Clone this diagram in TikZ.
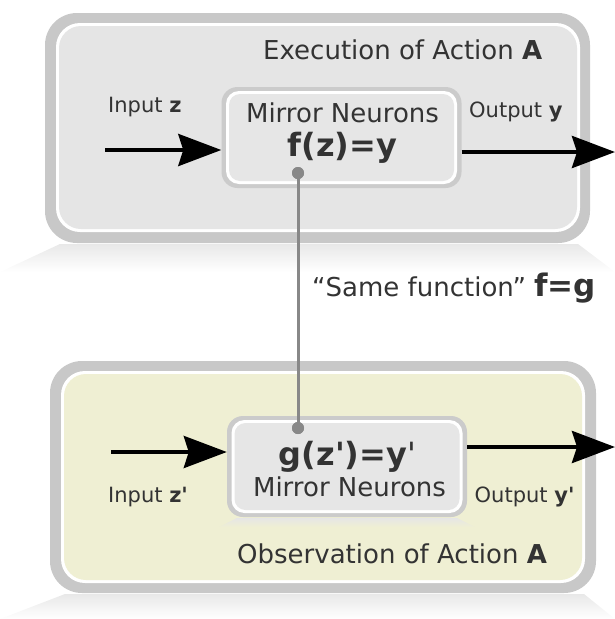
\documentclass[tikz,border=0pt]{standalone}
\usepackage{fontspec}
\newfontfamily\dv{DejaVu Sans}
\usetikzlibrary{arrows.meta}
\definecolor{band}{HTML}{C8C8C8}
\definecolor{topfill}{HTML}{E5E5E5}
\definecolor{botfill}{HTML}{EFEFD3}
\definecolor{txt}{HTML}{333333}
\definecolor{conncol}{HTML}{888888}
\definecolor{ibband}{HTML}{CBCBCB}
\definecolor{ibfill}{HTML}{E6E6E6}
\newcommand{\fsz}[1]{\fontsize{#1}{#1}\selectfont}
\begin{document}
\begin{tikzpicture}[x=1pt,y=-1pt,
  every node/.style={font=\dv, text=txt, inner sep=0pt},
  ibouter/.style={fill=ibband, rounded corners=16pt, minimum width=240pt, minimum height=101pt},
  ibwhite/.style={fill=white, rounded corners=13pt, minimum width=231pt, minimum height=93pt},
  ibinner/.style={fill=ibfill, rounded corners=11pt, minimum width=225pt, minimum height=87pt},
  flow/.style={line width=4pt, -{Stealth[length=43pt,width=32pt,inset=5pt]}},
  small/.style={font=\dv\fsz{21}},
  big/.style={font=\dv\fsz{26}},
  formula/.style={font=\dv\bfseries\fsz{32}},
  dotnode/.style={circle, fill=conncol, minimum size=12pt},
  link/.style={draw=conncol, line width=3pt}]
\useasboundingbox (0,0) rectangle (615,619);
% reflections
\shade[top color=black!9, bottom color=white] (60,244) -- (578,244) -- (615,272) -- (0,272) -- cycle;
\shade[top color=black!9, bottom color=white] (65,594) -- (584,594) -- (615,619) -- (0,619) -- cycle;
% outer boxes
\fill[band, rounded corners=32pt] (45,13) rectangle (590,243);
\fill[white, rounded corners=24pt] (56,23) rectangle (580,232);
\fill[topfill, rounded corners=22pt] (59,26) rectangle (577,229);
\fill[band, rounded corners=32pt] (50,361) rectangle (596,593);
\fill[white, rounded corners=24pt] (61,371) rectangle (585,583);
\fill[botfill, rounded corners=22pt] (64,374) rectangle (582,580);
% inner box shadows
\shade[top color=black!10, bottom color=topfill] (232,189) -- (452,189) -- (470,198) -- (214,198) -- cycle;
\shade[top color=black!10, bottom color=botfill] (237,518) -- (457,518) -- (475,527) -- (219,527) -- cycle;
% inner boxes
\node[ibouter] (m1) at (341.5,137.5) {};
\node[ibwhite] (m1w) at (m1) {};
\node[ibinner] (m1i) at (m1) {};
\node[ibouter] (m2) at (347,466.5) {};
\node[ibwhite] (m2w) at (m2) {};
\node[ibinner] (m2i) at (m2) {};
% texts
\node[big, anchor=base] (t1) at (342.5,122.3) {Mirror Neurons};
\node[formula, anchor=base] (f1) at (342.5,156) {f(z)=y};
\node[formula, anchor=base] (f2) at (347.5,465) {g(z')=y{\mdseries '}};
\node[big, anchor=base] (t2) at (349.5,496.7) {Mirror Neurons};
\node[big, anchor=base west] (exe) at (263,59.3) {Execution of Action \textbf{A}};
\node[big, anchor=base west] (obs) at (237,563) {Observation of Action \textbf{A}};
\node[small, anchor=base west] (inz) at (108,112) {Input \textbf{z}};
\node[small, anchor=base west] (outy) at (469,117.5) {Output \textbf{y}};
\node[small, anchor=base west] (inz2) at (108,502) {Input \textbf{z'}};
\node[small, anchor=base west] (outy2) at (474.5,502) {Output \textbf{y'}};
\node[big, anchor=base west] (same) at (312,296) {“Same function” {\bfseries\fsz{31}f=g}};
% arrows
\coordinate (a1) at (105,150);
\coordinate (b1) at (615,152);
\coordinate (a2) at (111,452);
\coordinate (b2) at (615,447);
\draw[flow] (a1) -- (a1 -| m1.west);
\draw[flow] (b1 -| m1.east) -- (b1);
\draw[flow] (a2) -- (a2 -| m2.west);
\draw[flow] (b2 -| m2.east) -- (b2);
% connector
\node[dotnode] (d1) at (298,173) {};
\node[dotnode] (d2) at (298,428) {};
\draw[link] (d1.center) -- (d2.center);
\node[dotnode] at (d1) {};
\node[dotnode] at (d2) {};
\end{tikzpicture}
\end{document}
